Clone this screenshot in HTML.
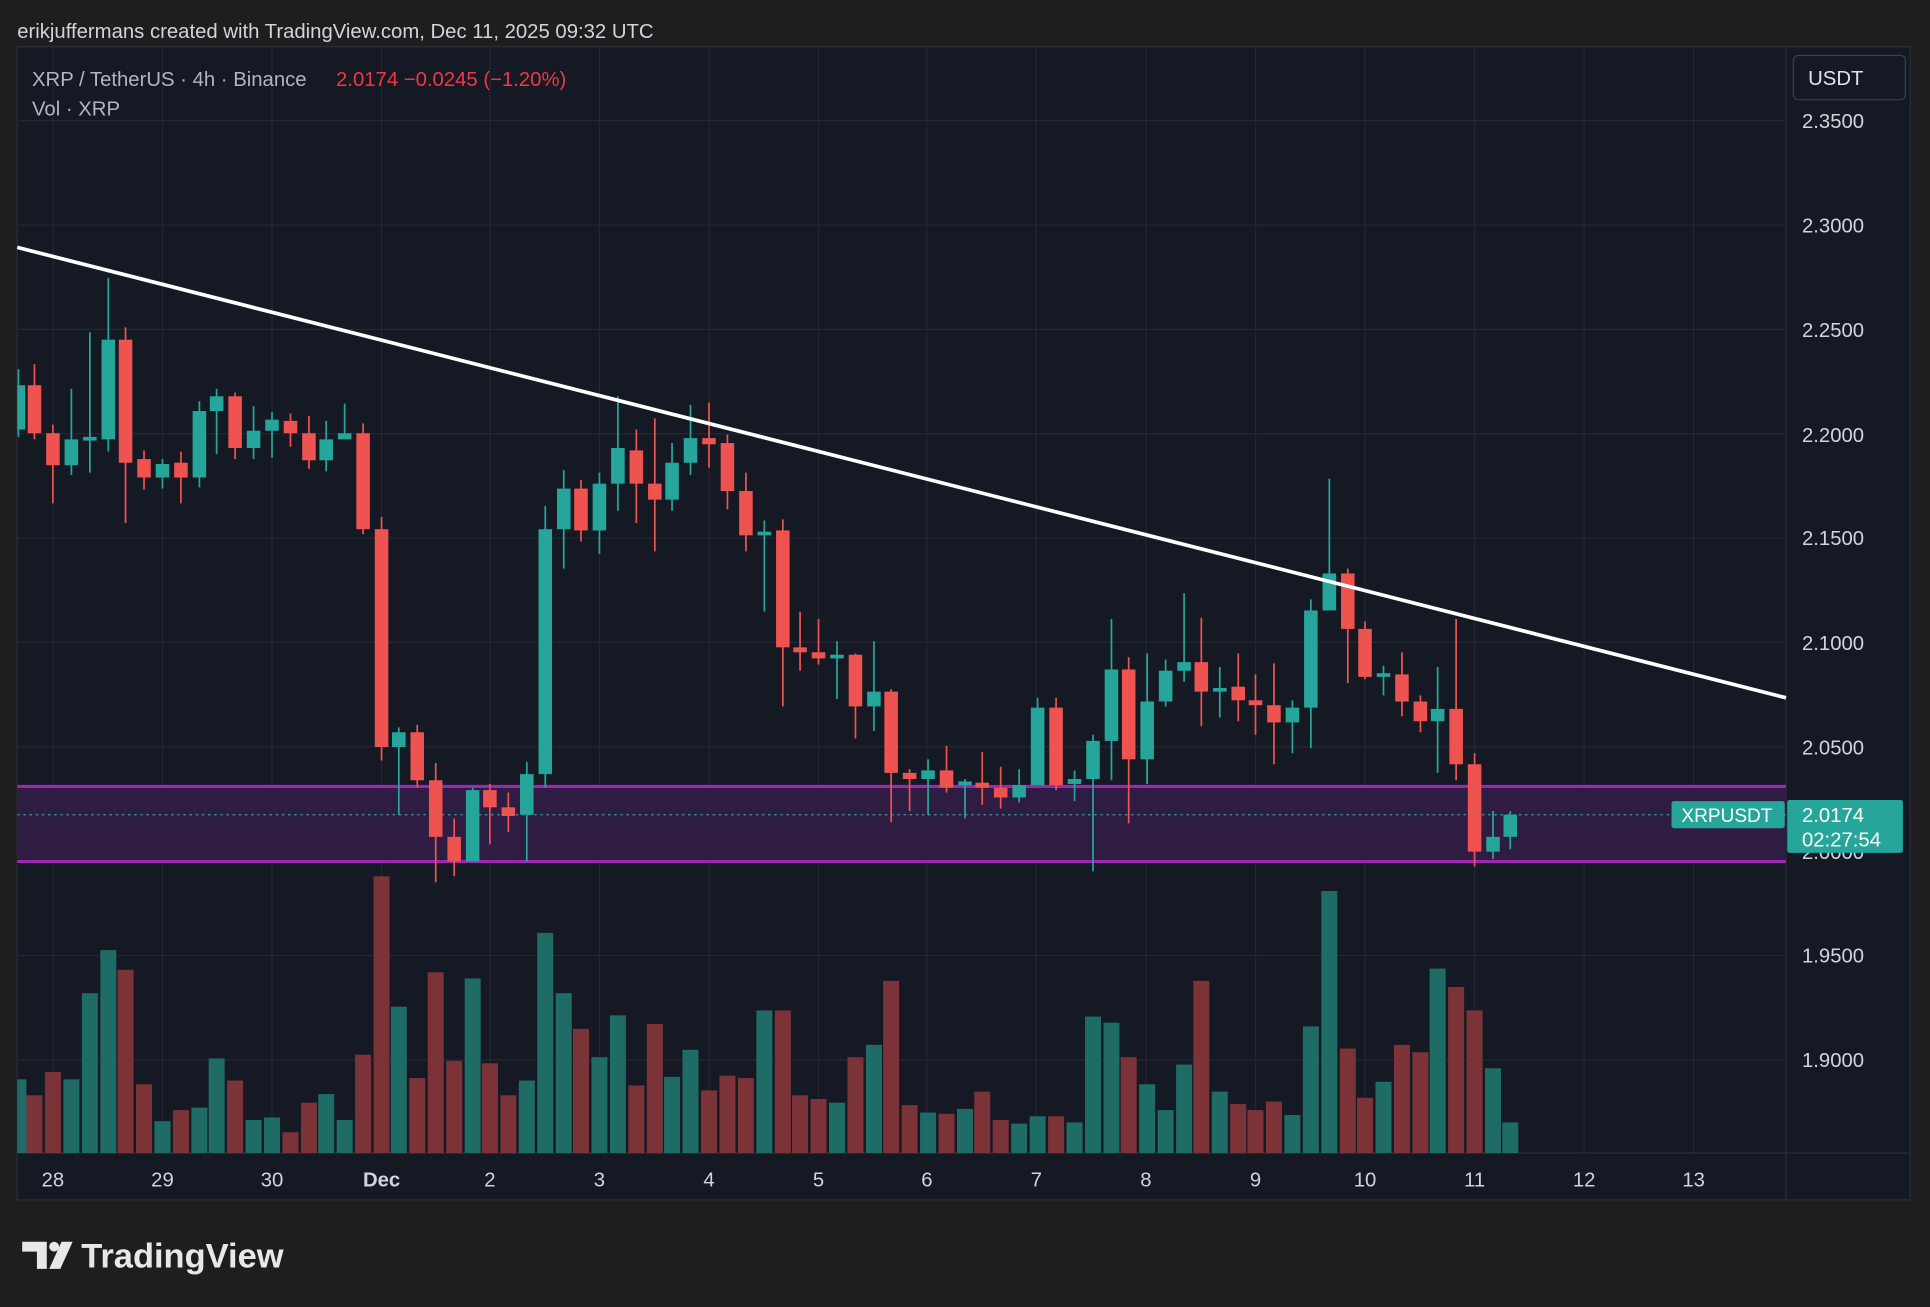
<!DOCTYPE html>
<html><head><meta charset="utf-8"><style>
html,body{margin:0;padding:0;background:#1e1e1e;}
svg{display:block}
text{font-family:"Liberation Sans",sans-serif;}
</style></head><body>
<svg id="s" width="1930" height="1307" viewBox="0 0 1568 1062" preserveAspectRatio="none" xmlns="http://www.w3.org/2000/svg">
<defs><clipPath id="cp"><rect x="14" y="38" width="1437" height="899"/></clipPath></defs>
<rect x="0" y="0" width="1568" height="1062" fill="#1e1e1e"/>
<text x="14" y="31" font-size="16.5" fill="#d1d4dc">erikjuffermans created with TradingView.com, Dec 11, 2025 09:32 UTC</text>
<rect x="14" y="38" width="1538" height="937" fill="#151924" stroke="#2a2e39" stroke-width="1"/>
<g id="grid" stroke="#232733" stroke-width="1"></g>
<line x1="1451" y1="38" x2="1451" y2="975" stroke="#2a2e39"/>
<line x1="14" y1="937" x2="1552" y2="937" stroke="#2a2e39"/>
<g id="vol" clip-path="url(#cp)"></g>
<rect x="14" y="639" width="1437" height="61" fill="#2e1c42"/>
<line x1="14" y1="639" x2="1451" y2="639" stroke="#9c27b0" stroke-width="2.5"/>
<line x1="14" y1="700" x2="1451" y2="700" stroke="#9c27b0" stroke-width="2.5"/>
<line x1="14" y1="662" x2="1451" y2="662" stroke="#26a69a" stroke-width="1" stroke-dasharray="2,3"/>
<g id="cdl" clip-path="url(#cp)"></g>
<line x1="14" y1="201" x2="1451" y2="567" stroke="#ffffff" stroke-width="3"/>
<g font-size="16.5" fill="#d1d4dc">
<text x="1464" y="104">2.3500</text>
<text x="1464" y="189">2.3000</text>
<text x="1464" y="274">2.2500</text>
<text x="1464" y="359">2.2000</text>
<text x="1464" y="443">2.1500</text>
<text x="1464" y="528">2.1000</text>
<text x="1464" y="613">2.0500</text>
<text x="1464" y="698">2.0000</text>
<text x="1464" y="782">1.9500</text>
<text x="1464" y="867">1.9000</text>
</g>
<rect x="1457" y="45" width="91" height="36" rx="4" fill="#151924" stroke="#3a3e49"/>
<text x="1469" y="69" font-size="16.5" fill="#e0e3eb">USDT</text>
<rect x="1358" y="651" width="92" height="22" rx="2" fill="#26a69a"/>
<text x="1366" y="668" font-size="15.5" fill="#ffffff">XRPUSDT</text>
<rect x="1452" y="650" width="94" height="43" rx="2" fill="#26a69a"/>
<text x="1464" y="668" font-size="16.5" fill="#ffffff">2.0174</text>
<text x="1464" y="688" font-size="16.5" fill="#ffffff">02:27:54</text>
<g font-size="16.5" fill="#d1d4dc" text-anchor="middle">
<text x="43" y="964">28</text><text x="132" y="964">29</text><text x="221" y="964">30</text>
<text x="310" y="964" font-weight="bold">Dec</text><text x="398" y="964">2</text><text x="487" y="964">3</text>
<text x="576" y="964">4</text><text x="665" y="964">5</text><text x="753" y="964">6</text>
<text x="842" y="964">7</text><text x="931" y="964">8</text><text x="1020" y="964">9</text>
<text x="1109" y="964">10</text><text x="1198" y="964">11</text><text x="1287" y="964">12</text><text x="1376" y="964">13</text>
</g>
<text x="26" y="70" font-size="16.5" fill="#b2b5be">XRP / TetherUS · 4h · Binance</text>
<text x="273" y="70" font-size="16.5" fill="#f23645">2.0174  −0.0245 (−1.20%)</text>
<text x="26" y="94" font-size="16.5" fill="#b2b5be">Vol · XRP</text>
<g fill="#e8e8e8">
<path d="M18 1009 h20 v22 h-8 v-14 h-12z"/>
<circle cx="44" cy="1013" r="4"/>
<path d="M50 1009 h9 l-10 22 h-9z"/>
</g>
<text x="66" y="1030" font-size="28" font-weight="bold" fill="#e8e8e8">TradingView</text>
</svg>
<script>
var NS="http://www.w3.org/2000/svg";
function el(p,t,a){var e=document.createElementNS(NS,t);for(var k in a)e.setAttribute(k,a[k]);p.appendChild(e);return e;}
var g=document.getElementById('grid');
[43,132,221,310,398,487,576,665,753,842,931,1020,1109,1198,1287,1376].forEach(function(x){el(g,'line',{x1:x,y1:38,x2:x,y2:937});});
for(var i=0;i<10;i++){var y=98+i*84.8;el(g,'line',{x1:14,y1:y,x2:1451,y2:y});}
var C=[[15,313,349,300,355,1],[28,313,352,296,357],[43,352,378,345,409],[58,378,357,316,386],[73,357,356,270,384,1],[88,357,276,226,367],[102,276,376,266,425],[117,373,388,366,398],[132,388,377,373,397],[147,376,388,367,409],[162,388,334,326,396],[176,334,322,316,369],[191,322,364,319,373],[206,364,350,330,373],[221,350,341,335,372],[236,342,352,336,363],[251,352,374,338,381],[265,374,357,342,383],[280,357,352,328,357],[295,352,430,344,434],[310,430,607,420,618],[324,607,595,591,662],[339,595,634,589,640],[354,634,680,620,717],[369,680,700,665,712],[384,700,642,640,700],[398,642,656,637,686],[413,656,663,644,676],[428,662,629,619,700],[443,629,430,411,640],[458,430,397,382,462],[472,397,431,390,440],[487,431,393,384,450],[502,393,364,322,415],[517,366,393,349,425],[532,393,406,340,448],[546,406,376,360,415],[561,376,356,329,386],[576,356,361,327,380],[591,360,399,353,414],[606,399,435,384,448],[621,435,433,423,497],[636,431,526,422,574],[650,526,530,497,545],[665,530,535,503,540],[680,535,532,521,568],[695,532,574,531,600],[710,574,562,521,594],[724,562,628,560,668],[739,628,633,625,659],[754,633,626,617,662],[769,626,640,606,644],[784,638,636,633,665],[798,636,640,611,654],[813,640,648,623,657],[828,648,638,625,652],[843,638,575,567,638],[858,575,638,567,642],[873,637,633,626,651],[888,633,602,597,708],[903,602,544,503,634],[917,544,617,534,669],[932,617,570,531,637],[947,570,545,536,574],[962,545,538,482,554],[976,538,562,502,590],[991,562,559,542,583],[1006,558,569,531,586],[1020,569,573,548,597],[1035,573,587,539,621],[1050,587,575,569,612],[1065,575,496,487,608],[1080,496,466,389,496],[1095,466,511,462,555],[1109,511,550,505,552],[1124,550,548,541,565],[1139,548,570,530,582],[1154,570,586,565,595],[1168,586,576,542,628],[1183,576,621,503,634],[1198,621,692,612,704],[1213,692,680,659,698],[1227,680,662,659,690]];
var V=[877,890,871,877,807,772,788,881,911,902,900,860,878,910,908,920,896,889,910,857,712,818,876,790,862,795,864,890,878,758,807,836,859,825,882,832,875,853,886,874,876,821,821,890,893,896,859,849,797,898,904,905,901,887,910,913,907,907,912,826,831,859,881,902,865,797,887,897,902,895,906,834,724,852,892,879,849,855,787,802,821,868,912];
var cg=document.getElementById('cdl'),vg=document.getElementById('vol');
C.forEach(function(c,i){var x=c[0],o=c[1],cl=c[2],h=c[3],l=c[4];var up=c[5]||cl<o;var col=up?'#26a69a':'#ef5350';
el(vg,'rect',{x:x-6.5,y:V[i],width:13,height:937-V[i],fill:up?'#1f6b66':'#7b3338'});
el(cg,'line',{x1:x,y1:h,x2:x,y2:l,stroke:col,'stroke-width':1.4});
var t=Math.min(o,cl),b=Math.max(o,cl);if(b-t<2.5){t-=1;b=t+3;}
el(cg,'rect',{x:x-5.5,y:t,width:11,height:b-t,fill:col});});
</script>
</body></html>
